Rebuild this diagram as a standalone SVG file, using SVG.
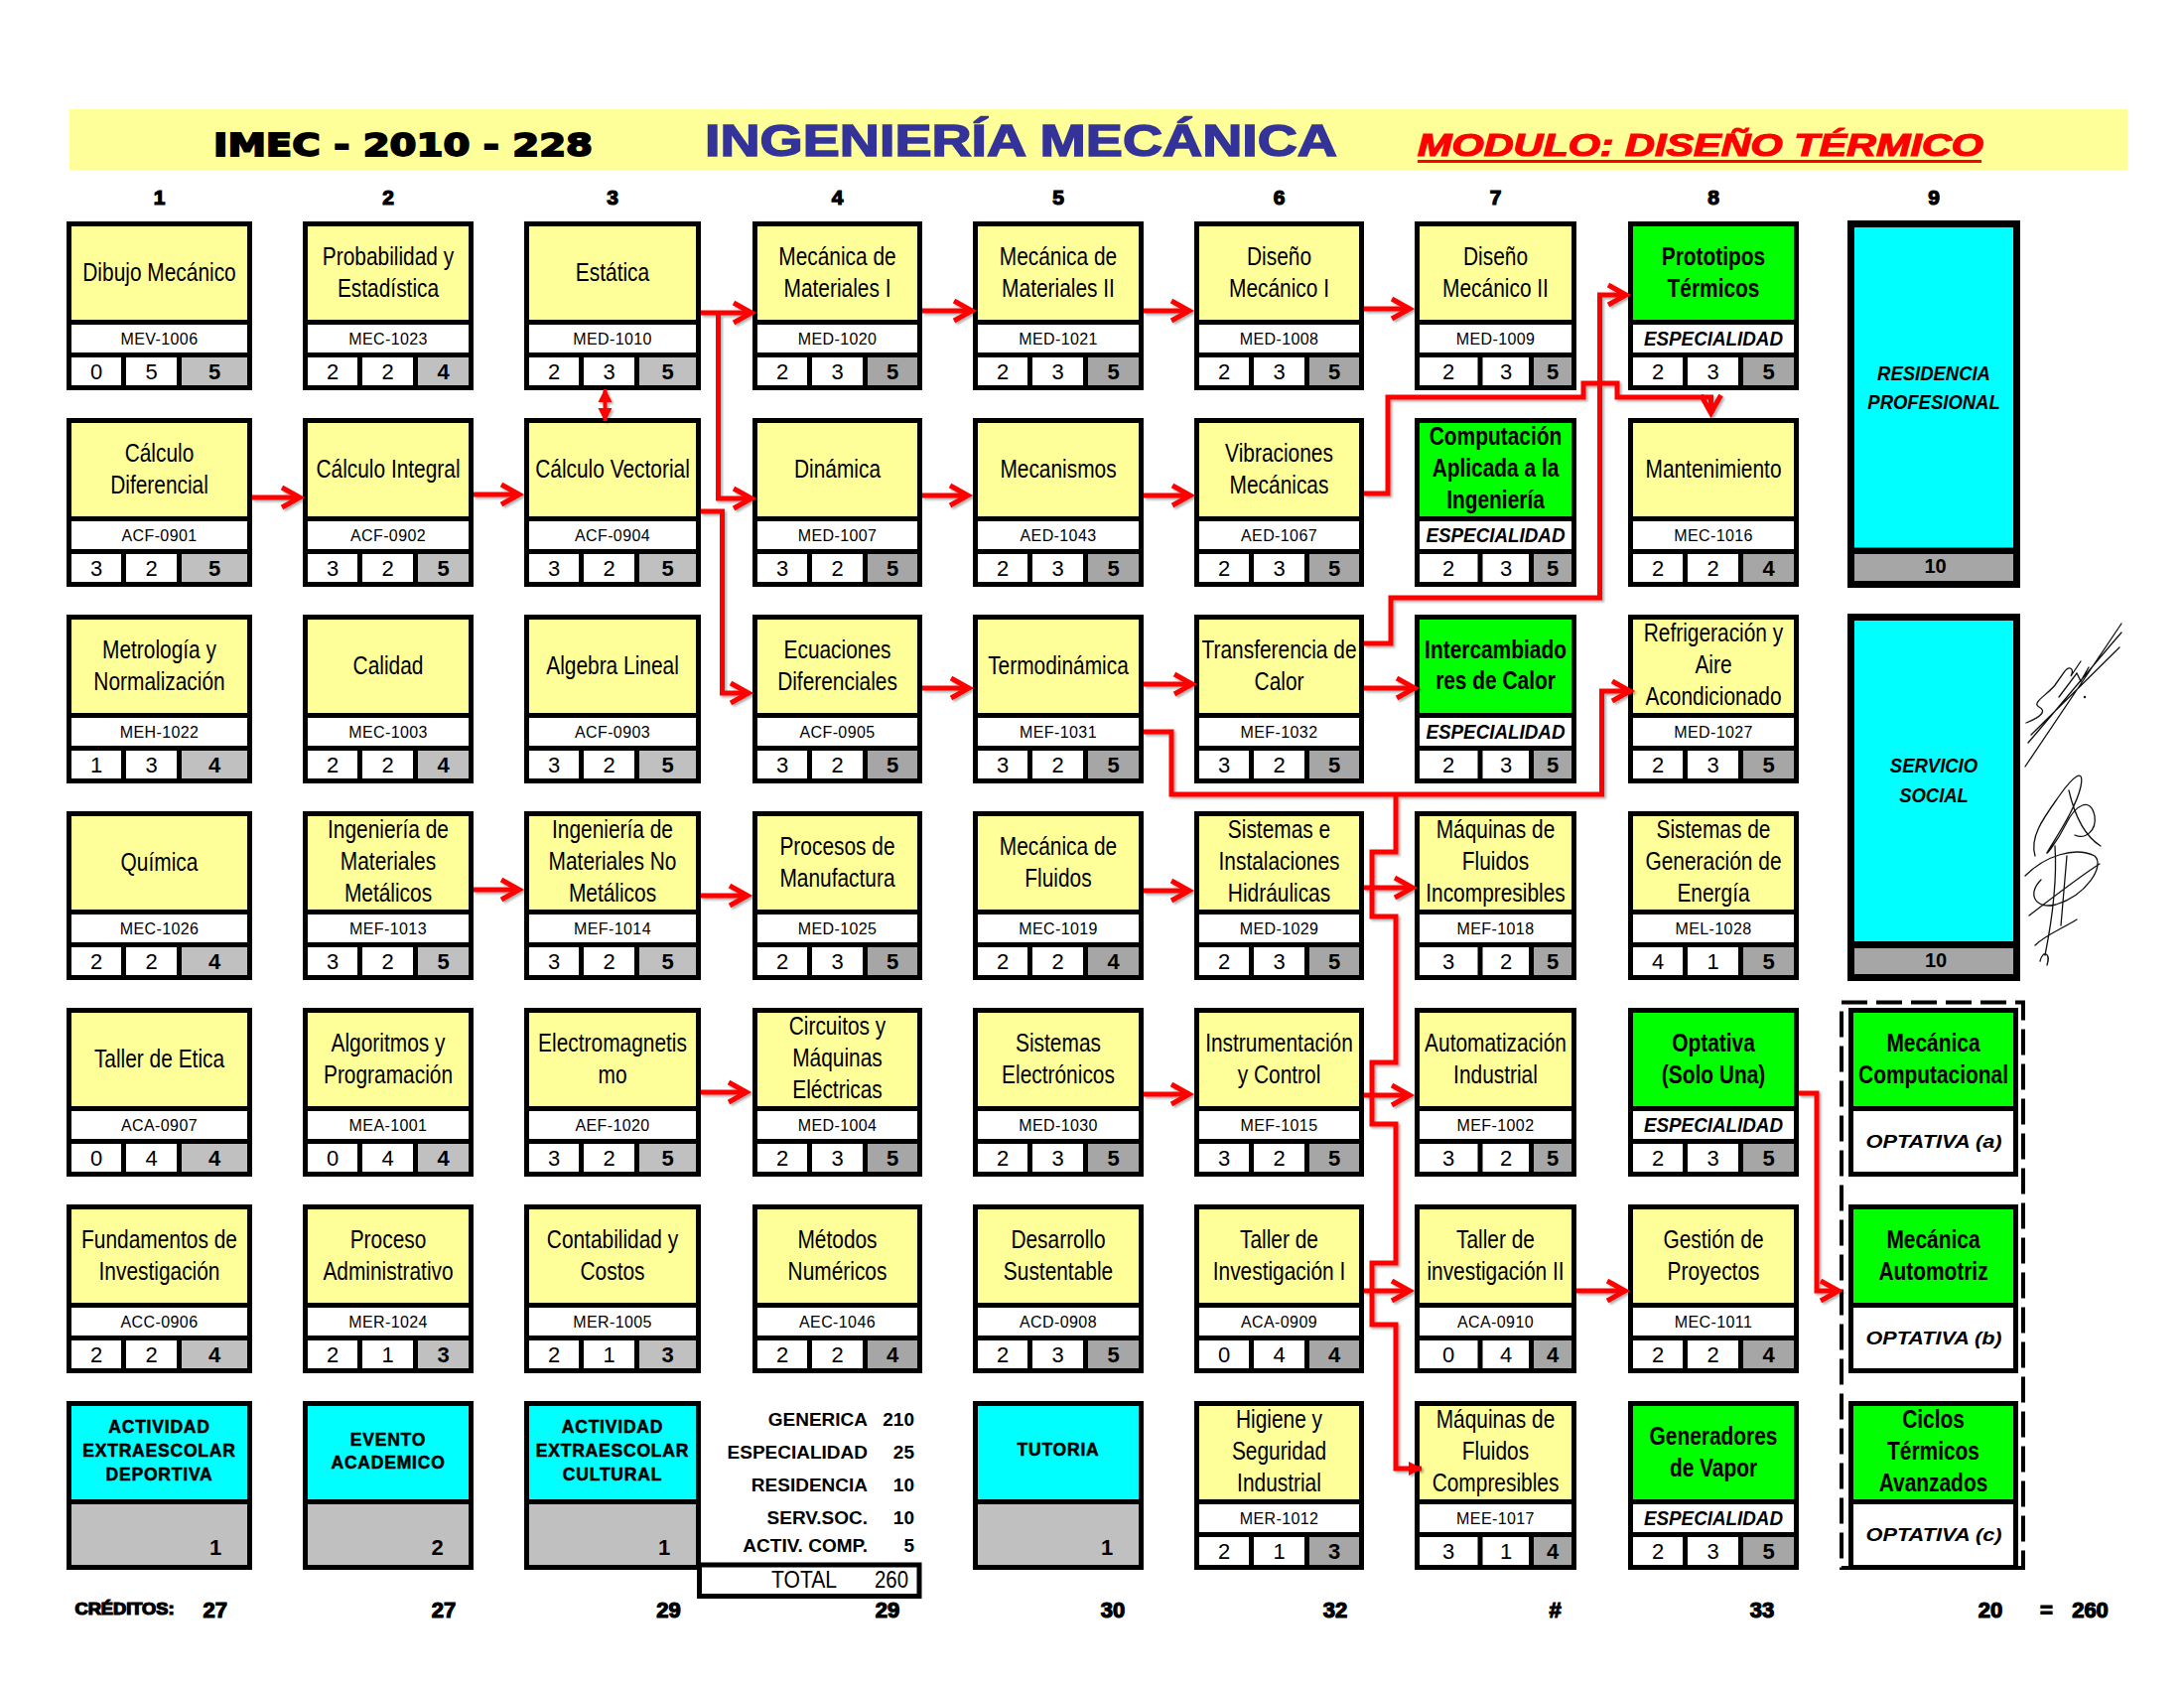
<svg xmlns="http://www.w3.org/2000/svg" width="2200" height="1700" viewBox="0 0 2200 1700">
<style>
.bd{fill:#000}
.ye{fill:#FFFF99}
.gr{fill:#00FF00}
.cy{fill:#00FFFF}
.wh{fill:#FFFFFF}
.g1{fill:#C0C0C0}
.g2{fill:#A6A6A6}
text{font-family:"Liberation Sans",Arial,sans-serif}
.t{font-size:25.5px;text-anchor:middle}
.tb{font-size:25.5px;text-anchor:middle;font-weight:bold}
.c{font-size:16px;text-anchor:middle;letter-spacing:0.4px}
.es{font-size:20.5px;font-weight:bold;font-style:italic;text-anchor:middle}
.op{font-size:19px;font-weight:bold;font-style:italic;text-anchor:middle}
.n{font-size:22px;text-anchor:middle}
.nb{font-size:22px;text-anchor:middle;font-weight:bold}
.cyt{font-size:17.5px;font-weight:bold;text-anchor:middle;letter-spacing:0.8px;stroke:#000;stroke-width:0.5px}
.blk{font-family:"DejaVu Sans",sans-serif;font-weight:bold;stroke:#000;stroke-width:1.2px}
.cn{stroke:#FF0000;stroke-width:5;fill:none}
.sum{font-size:19px;font-weight:bold;text-anchor:end}
.sig{stroke:#111;stroke-width:1.3;fill:none;stroke-linecap:round}
</style>
<defs>
<marker id="ah" markerUnits="userSpaceOnUse" viewBox="0 0 30 24" markerWidth="30" markerHeight="24" refX="21" refY="12" orient="auto" overflow="visible">
<path d="M3,2 L21,12 L3,22" fill="none" stroke="#FF0000" stroke-width="5"/>
</marker>
<marker id="tri" markerUnits="userSpaceOnUse" viewBox="0 0 14 14" markerWidth="14" markerHeight="14" refX="13" refY="7" orient="auto-start-reverse" overflow="visible">
<path d="M0,0 L14,7 L0,14 Z" fill="#FF0000"/>
</marker>
<filter id="sh" x="-10%" y="-10%" width="120%" height="120%">
<feDropShadow dx="2" dy="2" stdDeviation="1" flood-color="#000" flood-opacity="0.3"/>
</filter>
</defs>
<rect width="2200" height="1700" fill="#FFFFFF"/>

<g id="header">
<rect x="70" y="110" width="2073" height="61" fill="#FFFF99"/>
<text class="blk" x="215" y="157" font-size="32" textLength="382" lengthAdjust="spacingAndGlyphs" style="stroke-width:1.8px">IMEC - 2010 - 228</text>
<text x="710" y="157" font-size="45" font-weight="bold" style="fill:#333399;stroke:#333399;stroke-width:1.5px" textLength="637" lengthAdjust="spacingAndGlyphs">INGENIERÍA MECÁNICA</text>
<text x="1428" y="157" font-size="31" font-weight="bold" font-style="italic" style="fill:#FF0000;stroke:#FF0000;stroke-width:1.2px" textLength="570" lengthAdjust="spacingAndGlyphs">MODULO: DISEÑO TÉRMICO</text>
<rect x="1428" y="161" width="568" height="3" fill="#FF0000"/>
</g>

<g id="column-numbers" class="blk" font-size="21" text-anchor="middle">
<text x="160.5" y="206">1</text><text x="391" y="206">2</text><text x="617" y="206">3</text><text x="843.5" y="206">4</text><text x="1066" y="206">5</text><text x="1288.5" y="206">6</text><text x="1506.5" y="206">7</text><text x="1726" y="206">8</text><text x="1948" y="206">9</text>
</g>

<!-- COLUMN 1 -->
<g id="dibujo-mecanico">
<rect class="bd" x="67" y="223" width="187" height="170"/><rect class="ye" x="72" y="228" width="177" height="94"/><rect class="wh" x="72" y="327" width="177" height="28"/>
<rect class="wh" x="72" y="360" width="50" height="28"/><rect class="wh" x="127" y="360" width="51" height="28"/><rect class="g1" x="183" y="360" width="66" height="28"/>
<text class="t" transform="translate(160.5 0) scale(0.82 1)"><tspan x="0" y="283">Dibujo Mecánico</tspan></text>
<text class="c" x="160.5" y="347">MEV-1006</text>
<text class="n" x="97" y="382">0</text><text class="n" x="152.5" y="382">5</text><text class="nb" x="216" y="382">5</text>
</g>
<g id="calculo-diferencial">
<rect class="bd" x="67" y="421" width="187" height="170"/><rect class="ye" x="72" y="426" width="177" height="94"/><rect class="wh" x="72" y="525" width="177" height="28"/>
<rect class="wh" x="72" y="558" width="50" height="28"/><rect class="wh" x="127" y="558" width="51" height="28"/><rect class="g1" x="183" y="558" width="66" height="28"/>
<text class="t" transform="translate(160.5 0) scale(0.82 1)"><tspan x="0" y="465">Cálculo</tspan><tspan x="0" y="497">Diferencial</tspan></text>
<text class="c" x="160.5" y="545">ACF-0901</text>
<text class="n" x="97" y="580">3</text><text class="n" x="152.5" y="580">2</text><text class="nb" x="216" y="580">5</text>
</g>
<g id="metrologia">
<rect class="bd" x="67" y="619" width="187" height="170"/><rect class="ye" x="72" y="624" width="177" height="94"/><rect class="wh" x="72" y="723" width="177" height="28"/>
<rect class="wh" x="72" y="756" width="50" height="28"/><rect class="wh" x="127" y="756" width="51" height="28"/><rect class="g1" x="183" y="756" width="66" height="28"/>
<text class="t" transform="translate(160.5 0) scale(0.82 1)"><tspan x="0" y="663">Metrología y</tspan><tspan x="0" y="695">Normalización</tspan></text>
<text class="c" x="160.5" y="743">MEH-1022</text>
<text class="n" x="97" y="778">1</text><text class="n" x="152.5" y="778">3</text><text class="nb" x="216" y="778">4</text>
</g>
<g id="quimica">
<rect class="bd" x="67" y="817" width="187" height="170"/><rect class="ye" x="72" y="822" width="177" height="94"/><rect class="wh" x="72" y="921" width="177" height="28"/>
<rect class="wh" x="72" y="954" width="50" height="28"/><rect class="wh" x="127" y="954" width="51" height="28"/><rect class="g1" x="183" y="954" width="66" height="28"/>
<text class="t" transform="translate(160.5 0) scale(0.82 1)"><tspan x="0" y="877">Química</tspan></text>
<text class="c" x="160.5" y="941">MEC-1026</text>
<text class="n" x="97" y="976">2</text><text class="n" x="152.5" y="976">2</text><text class="nb" x="216" y="976">4</text>
</g>
<g id="taller-etica">
<rect class="bd" x="67" y="1015" width="187" height="170"/><rect class="ye" x="72" y="1020" width="177" height="94"/><rect class="wh" x="72" y="1119" width="177" height="28"/>
<rect class="wh" x="72" y="1152" width="50" height="28"/><rect class="wh" x="127" y="1152" width="51" height="28"/><rect class="g1" x="183" y="1152" width="66" height="28"/>
<text class="t" transform="translate(160.5 0) scale(0.82 1)"><tspan x="0" y="1075">Taller de Etica</tspan></text>
<text class="c" x="160.5" y="1139">ACA-0907</text>
<text class="n" x="97" y="1174">0</text><text class="n" x="152.5" y="1174">4</text><text class="nb" x="216" y="1174">4</text>
</g>
<g id="fundamentos-investigacion">
<rect class="bd" x="67" y="1213" width="187" height="170"/><rect class="ye" x="72" y="1218" width="177" height="94"/><rect class="wh" x="72" y="1317" width="177" height="28"/>
<rect class="wh" x="72" y="1350" width="50" height="28"/><rect class="wh" x="127" y="1350" width="51" height="28"/><rect class="g1" x="183" y="1350" width="66" height="28"/>
<text class="t" transform="translate(160.5 0) scale(0.82 1)"><tspan x="0" y="1257">Fundamentos de</tspan><tspan x="0" y="1289">Investigación</tspan></text>
<text class="c" x="160.5" y="1337">ACC-0906</text>
<text class="n" x="97" y="1372">2</text><text class="n" x="152.5" y="1372">2</text><text class="nb" x="216" y="1372">4</text>
</g>
<g id="actividad-deportiva">
<rect class="bd" x="67" y="1411" width="187" height="170"/><rect class="cy" x="72" y="1416" width="177" height="94"/><rect class="g1" x="72" y="1515" width="177" height="61"/>
<text class="cyt" x="160.5" y="1443">ACTIVIDAD</text><text class="cyt" x="160.5" y="1467">EXTRAESCOLAR</text><text class="cyt" x="160.5" y="1491">DEPORTIVA</text>
<text class="nb" x="217" y="1566">1</text>
</g>

<!-- COLUMN 2 -->
<g id="probabilidad">
<rect class="bd" x="305" y="223" width="172" height="170"/><rect class="ye" x="310" y="228" width="162" height="94"/><rect class="wh" x="310" y="327" width="162" height="28"/>
<rect class="wh" x="310" y="360" width="50" height="28"/><rect class="wh" x="365" y="360" width="51" height="28"/><rect class="g1" x="421" y="360" width="51" height="28"/>
<text class="t" transform="translate(391 0) scale(0.82 1)"><tspan x="0" y="267">Probabilidad y</tspan><tspan x="0" y="299">Estadística</tspan></text>
<text class="c" x="391" y="347">MEC-1023</text>
<text class="n" x="335" y="382">2</text><text class="n" x="390.5" y="382">2</text><text class="nb" x="446.5" y="382">4</text>
</g>
<g id="calculo-integral">
<rect class="bd" x="305" y="421" width="172" height="170"/><rect class="ye" x="310" y="426" width="162" height="94"/><rect class="wh" x="310" y="525" width="162" height="28"/>
<rect class="wh" x="310" y="558" width="50" height="28"/><rect class="wh" x="365" y="558" width="51" height="28"/><rect class="g1" x="421" y="558" width="51" height="28"/>
<text class="t" transform="translate(391 0) scale(0.82 1)"><tspan x="0" y="481">Cálculo Integral</tspan></text>
<text class="c" x="391" y="545">ACF-0902</text>
<text class="n" x="335" y="580">3</text><text class="n" x="390.5" y="580">2</text><text class="nb" x="446.5" y="580">5</text>
</g>
<g id="calidad">
<rect class="bd" x="305" y="619" width="172" height="170"/><rect class="ye" x="310" y="624" width="162" height="94"/><rect class="wh" x="310" y="723" width="162" height="28"/>
<rect class="wh" x="310" y="756" width="50" height="28"/><rect class="wh" x="365" y="756" width="51" height="28"/><rect class="g1" x="421" y="756" width="51" height="28"/>
<text class="t" transform="translate(391 0) scale(0.82 1)"><tspan x="0" y="679">Calidad</tspan></text>
<text class="c" x="391" y="743">MEC-1003</text>
<text class="n" x="335" y="778">2</text><text class="n" x="390.5" y="778">2</text><text class="nb" x="446.5" y="778">4</text>
</g>
<g id="ing-materiales-metalicos">
<rect class="bd" x="305" y="817" width="172" height="170"/><rect class="ye" x="310" y="822" width="162" height="94"/><rect class="wh" x="310" y="921" width="162" height="28"/>
<rect class="wh" x="310" y="954" width="50" height="28"/><rect class="wh" x="365" y="954" width="51" height="28"/><rect class="g1" x="421" y="954" width="51" height="28"/>
<text class="t" transform="translate(391 0) scale(0.82 1)"><tspan x="0" y="844">Ingeniería de</tspan><tspan x="0" y="876">Materiales</tspan><tspan x="0" y="908">Metálicos</tspan></text>
<text class="c" x="391" y="941">MEF-1013</text>
<text class="n" x="335" y="976">3</text><text class="n" x="390.5" y="976">2</text><text class="nb" x="446.5" y="976">5</text>
</g>
<g id="algoritmos">
<rect class="bd" x="305" y="1015" width="172" height="170"/><rect class="ye" x="310" y="1020" width="162" height="94"/><rect class="wh" x="310" y="1119" width="162" height="28"/>
<rect class="wh" x="310" y="1152" width="50" height="28"/><rect class="wh" x="365" y="1152" width="51" height="28"/><rect class="g1" x="421" y="1152" width="51" height="28"/>
<text class="t" transform="translate(391 0) scale(0.82 1)"><tspan x="0" y="1059">Algoritmos y</tspan><tspan x="0" y="1091">Programación</tspan></text>
<text class="c" x="391" y="1139">MEA-1001</text>
<text class="n" x="335" y="1174">0</text><text class="n" x="390.5" y="1174">4</text><text class="nb" x="446.5" y="1174">4</text>
</g>
<g id="proceso-administrativo">
<rect class="bd" x="305" y="1213" width="172" height="170"/><rect class="ye" x="310" y="1218" width="162" height="94"/><rect class="wh" x="310" y="1317" width="162" height="28"/>
<rect class="wh" x="310" y="1350" width="50" height="28"/><rect class="wh" x="365" y="1350" width="51" height="28"/><rect class="g1" x="421" y="1350" width="51" height="28"/>
<text class="t" transform="translate(391 0) scale(0.82 1)"><tspan x="0" y="1257">Proceso</tspan><tspan x="0" y="1289">Administrativo</tspan></text>
<text class="c" x="391" y="1337">MER-1024</text>
<text class="n" x="335" y="1372">2</text><text class="n" x="390.5" y="1372">1</text><text class="nb" x="446.5" y="1372">3</text>
</g>
<g id="evento-academico">
<rect class="bd" x="305" y="1411" width="172" height="170"/><rect class="cy" x="310" y="1416" width="162" height="94"/><rect class="g1" x="310" y="1515" width="162" height="61"/>
<text class="cyt" x="391" y="1456">EVENTO</text><text class="cyt" x="391" y="1479">ACADEMICO</text>
<text class="nb" x="440.5" y="1566">2</text>
</g>

<!-- COLUMN 3 -->
<g id="estatica">
<rect class="bd" x="528" y="223" width="178" height="170"/><rect class="ye" x="533" y="228" width="168" height="94"/><rect class="wh" x="533" y="327" width="168" height="28"/>
<rect class="wh" x="533" y="360" width="50" height="28"/><rect class="wh" x="588" y="360" width="51" height="28"/><rect class="g1" x="644" y="360" width="57" height="28"/>
<text class="t" transform="translate(617 0) scale(0.82 1)"><tspan x="0" y="283">Estática</tspan></text>
<text class="c" x="617" y="347">MED-1010</text>
<text class="n" x="558" y="382">2</text><text class="n" x="613.5" y="382">3</text><text class="nb" x="672.5" y="382">5</text>
</g>
<g id="calculo-vectorial">
<rect class="bd" x="528" y="421" width="178" height="170"/><rect class="ye" x="533" y="426" width="168" height="94"/><rect class="wh" x="533" y="525" width="168" height="28"/>
<rect class="wh" x="533" y="558" width="50" height="28"/><rect class="wh" x="588" y="558" width="51" height="28"/><rect class="g1" x="644" y="558" width="57" height="28"/>
<text class="t" transform="translate(617 0) scale(0.82 1)"><tspan x="0" y="481">Cálculo Vectorial</tspan></text>
<text class="c" x="617" y="545">ACF-0904</text>
<text class="n" x="558" y="580">3</text><text class="n" x="613.5" y="580">2</text><text class="nb" x="672.5" y="580">5</text>
</g>
<g id="algebra-lineal">
<rect class="bd" x="528" y="619" width="178" height="170"/><rect class="ye" x="533" y="624" width="168" height="94"/><rect class="wh" x="533" y="723" width="168" height="28"/>
<rect class="wh" x="533" y="756" width="50" height="28"/><rect class="wh" x="588" y="756" width="51" height="28"/><rect class="g1" x="644" y="756" width="57" height="28"/>
<text class="t" transform="translate(617 0) scale(0.82 1)"><tspan x="0" y="679">Algebra Lineal</tspan></text>
<text class="c" x="617" y="743">ACF-0903</text>
<text class="n" x="558" y="778">3</text><text class="n" x="613.5" y="778">2</text><text class="nb" x="672.5" y="778">5</text>
</g>
<g id="ing-materiales-no-metalicos">
<rect class="bd" x="528" y="817" width="178" height="170"/><rect class="ye" x="533" y="822" width="168" height="94"/><rect class="wh" x="533" y="921" width="168" height="28"/>
<rect class="wh" x="533" y="954" width="50" height="28"/><rect class="wh" x="588" y="954" width="51" height="28"/><rect class="g1" x="644" y="954" width="57" height="28"/>
<text class="t" transform="translate(617 0) scale(0.82 1)"><tspan x="0" y="844">Ingeniería de</tspan><tspan x="0" y="876">Materiales No</tspan><tspan x="0" y="908">Metálicos</tspan></text>
<text class="c" x="617" y="941">MEF-1014</text>
<text class="n" x="558" y="976">3</text><text class="n" x="613.5" y="976">2</text><text class="nb" x="672.5" y="976">5</text>
</g>
<g id="electromagnetismo">
<rect class="bd" x="528" y="1015" width="178" height="170"/><rect class="ye" x="533" y="1020" width="168" height="94"/><rect class="wh" x="533" y="1119" width="168" height="28"/>
<rect class="wh" x="533" y="1152" width="50" height="28"/><rect class="wh" x="588" y="1152" width="51" height="28"/><rect class="g1" x="644" y="1152" width="57" height="28"/>
<text class="t" transform="translate(617 0) scale(0.82 1)"><tspan x="0" y="1059">Electromagnetis</tspan><tspan x="0" y="1091">mo</tspan></text>
<text class="c" x="617" y="1139">AEF-1020</text>
<text class="n" x="558" y="1174">3</text><text class="n" x="613.5" y="1174">2</text><text class="nb" x="672.5" y="1174">5</text>
</g>
<g id="contabilidad">
<rect class="bd" x="528" y="1213" width="178" height="170"/><rect class="ye" x="533" y="1218" width="168" height="94"/><rect class="wh" x="533" y="1317" width="168" height="28"/>
<rect class="wh" x="533" y="1350" width="50" height="28"/><rect class="wh" x="588" y="1350" width="51" height="28"/><rect class="g1" x="644" y="1350" width="57" height="28"/>
<text class="t" transform="translate(617 0) scale(0.82 1)"><tspan x="0" y="1257">Contabilidad y</tspan><tspan x="0" y="1289">Costos</tspan></text>
<text class="c" x="617" y="1337">MER-1005</text>
<text class="n" x="558" y="1372">2</text><text class="n" x="613.5" y="1372">1</text><text class="nb" x="672.5" y="1372">3</text>
</g>
<g id="actividad-cultural">
<rect class="bd" x="528" y="1411" width="178" height="170"/><rect class="cy" x="533" y="1416" width="168" height="94"/><rect class="g1" x="533" y="1515" width="168" height="61"/>
<text class="cyt" x="617" y="1443">ACTIVIDAD</text><text class="cyt" x="617" y="1467">EXTRAESCOLAR</text><text class="cyt" x="617" y="1491">CULTURAL</text>
<text class="nb" x="669" y="1566">1</text>
</g>

<!-- COLUMN 4 -->
<g id="mecanica-materiales-1">
<rect class="bd" x="758" y="223" width="171" height="170"/><rect class="ye" x="763" y="228" width="161" height="94"/><rect class="wh" x="763" y="327" width="161" height="28"/>
<rect class="wh" x="763" y="360" width="50" height="28"/><rect class="wh" x="818" y="360" width="51" height="28"/><rect class="g2" x="874" y="360" width="50" height="28"/>
<text class="t" transform="translate(843.5 0) scale(0.82 1)"><tspan x="0" y="267">Mecánica de</tspan><tspan x="0" y="299">Materiales I</tspan></text>
<text class="c" x="843.5" y="347">MED-1020</text>
<text class="n" x="788" y="382">2</text><text class="n" x="843.5" y="382">3</text><text class="nb" x="899" y="382">5</text>
</g>
<g id="dinamica">
<rect class="bd" x="758" y="421" width="171" height="170"/><rect class="ye" x="763" y="426" width="161" height="94"/><rect class="wh" x="763" y="525" width="161" height="28"/>
<rect class="wh" x="763" y="558" width="50" height="28"/><rect class="wh" x="818" y="558" width="51" height="28"/><rect class="g2" x="874" y="558" width="50" height="28"/>
<text class="t" transform="translate(843.5 0) scale(0.82 1)"><tspan x="0" y="481">Dinámica</tspan></text>
<text class="c" x="843.5" y="545">MED-1007</text>
<text class="n" x="788" y="580">3</text><text class="n" x="843.5" y="580">2</text><text class="nb" x="899" y="580">5</text>
</g>
<g id="ecuaciones-diferenciales">
<rect class="bd" x="758" y="619" width="171" height="170"/><rect class="ye" x="763" y="624" width="161" height="94"/><rect class="wh" x="763" y="723" width="161" height="28"/>
<rect class="wh" x="763" y="756" width="50" height="28"/><rect class="wh" x="818" y="756" width="51" height="28"/><rect class="g2" x="874" y="756" width="50" height="28"/>
<text class="t" transform="translate(843.5 0) scale(0.82 1)"><tspan x="0" y="663">Ecuaciones</tspan><tspan x="0" y="695">Diferenciales</tspan></text>
<text class="c" x="843.5" y="743">ACF-0905</text>
<text class="n" x="788" y="778">3</text><text class="n" x="843.5" y="778">2</text><text class="nb" x="899" y="778">5</text>
</g>
<g id="procesos-manufactura">
<rect class="bd" x="758" y="817" width="171" height="170"/><rect class="ye" x="763" y="822" width="161" height="94"/><rect class="wh" x="763" y="921" width="161" height="28"/>
<rect class="wh" x="763" y="954" width="50" height="28"/><rect class="wh" x="818" y="954" width="51" height="28"/><rect class="g2" x="874" y="954" width="50" height="28"/>
<text class="t" transform="translate(843.5 0) scale(0.82 1)"><tspan x="0" y="861">Procesos de</tspan><tspan x="0" y="893">Manufactura</tspan></text>
<text class="c" x="843.5" y="941">MED-1025</text>
<text class="n" x="788" y="976">2</text><text class="n" x="843.5" y="976">3</text><text class="nb" x="899" y="976">5</text>
</g>
<g id="circuitos">
<rect class="bd" x="758" y="1015" width="171" height="170"/><rect class="ye" x="763" y="1020" width="161" height="94"/><rect class="wh" x="763" y="1119" width="161" height="28"/>
<rect class="wh" x="763" y="1152" width="50" height="28"/><rect class="wh" x="818" y="1152" width="51" height="28"/><rect class="g2" x="874" y="1152" width="50" height="28"/>
<text class="t" transform="translate(843.5 0) scale(0.82 1)"><tspan x="0" y="1042">Circuitos y</tspan><tspan x="0" y="1074">Máquinas</tspan><tspan x="0" y="1106">Eléctricas</tspan></text>
<text class="c" x="843.5" y="1139">MED-1004</text>
<text class="n" x="788" y="1174">2</text><text class="n" x="843.5" y="1174">3</text><text class="nb" x="899" y="1174">5</text>
</g>
<g id="metodos-numericos">
<rect class="bd" x="758" y="1213" width="171" height="170"/><rect class="ye" x="763" y="1218" width="161" height="94"/><rect class="wh" x="763" y="1317" width="161" height="28"/>
<rect class="wh" x="763" y="1350" width="50" height="28"/><rect class="wh" x="818" y="1350" width="51" height="28"/><rect class="g2" x="874" y="1350" width="50" height="28"/>
<text class="t" transform="translate(843.5 0) scale(0.82 1)"><tspan x="0" y="1257">Métodos</tspan><tspan x="0" y="1289">Numéricos</tspan></text>
<text class="c" x="843.5" y="1337">AEC-1046</text>
<text class="n" x="788" y="1372">2</text><text class="n" x="843.5" y="1372">2</text><text class="nb" x="899" y="1372">4</text>
</g>
<g id="resumen-creditos">
<text class="sum" x="874" y="1436">GENERICA</text><text class="sum" x="921" y="1436">210</text>
<text class="sum" x="874" y="1469">ESPECIALIDAD</text><text class="sum" x="921" y="1469">25</text>
<text class="sum" x="874" y="1502">RESIDENCIA</text><text class="sum" x="921" y="1502">10</text>
<text class="sum" x="874" y="1535">SERV.SOC.</text><text class="sum" x="921" y="1535">10</text>
<text class="sum" x="874" y="1563">ACTIV. COMP.</text><text class="sum" x="921" y="1563">5</text>
<rect x="704.5" y="1576" width="221.5" height="31.5" fill="#FFFFFF" stroke="#000" stroke-width="5"/>
<text font-size="24" text-anchor="middle" transform="translate(810 0) scale(0.88 1)"><tspan x="0" y="1599">TOTAL</tspan></text>
<text font-size="24" text-anchor="end" transform="translate(915 0) scale(0.85 1)"><tspan x="0" y="1599">260</tspan></text>
</g>

<!-- COLUMN 5 -->
<g id="mecanica-materiales-2">
<rect class="bd" x="980" y="223" width="172" height="170"/><rect class="ye" x="985" y="228" width="162" height="94"/><rect class="wh" x="985" y="327" width="162" height="28"/>
<rect class="wh" x="985" y="360" width="50" height="28"/><rect class="wh" x="1040" y="360" width="51" height="28"/><rect class="g2" x="1096" y="360" width="51" height="28"/>
<text class="t" transform="translate(1066 0) scale(0.82 1)"><tspan x="0" y="267">Mecánica de</tspan><tspan x="0" y="299">Materiales II</tspan></text>
<text class="c" x="1066" y="347">MED-1021</text>
<text class="n" x="1010" y="382">2</text><text class="n" x="1065.5" y="382">3</text><text class="nb" x="1121.5" y="382">5</text>
</g>
<g id="mecanismos">
<rect class="bd" x="980" y="421" width="172" height="170"/><rect class="ye" x="985" y="426" width="162" height="94"/><rect class="wh" x="985" y="525" width="162" height="28"/>
<rect class="wh" x="985" y="558" width="50" height="28"/><rect class="wh" x="1040" y="558" width="51" height="28"/><rect class="g2" x="1096" y="558" width="51" height="28"/>
<text class="t" transform="translate(1066 0) scale(0.82 1)"><tspan x="0" y="481">Mecanismos</tspan></text>
<text class="c" x="1066" y="545">AED-1043</text>
<text class="n" x="1010" y="580">2</text><text class="n" x="1065.5" y="580">3</text><text class="nb" x="1121.5" y="580">5</text>
</g>
<g id="termodinamica">
<rect class="bd" x="980" y="619" width="172" height="170"/><rect class="ye" x="985" y="624" width="162" height="94"/><rect class="wh" x="985" y="723" width="162" height="28"/>
<rect class="wh" x="985" y="756" width="50" height="28"/><rect class="wh" x="1040" y="756" width="51" height="28"/><rect class="g2" x="1096" y="756" width="51" height="28"/>
<text class="t" transform="translate(1066 0) scale(0.82 1)"><tspan x="0" y="679">Termodinámica</tspan></text>
<text class="c" x="1066" y="743">MEF-1031</text>
<text class="n" x="1010" y="778">3</text><text class="n" x="1065.5" y="778">2</text><text class="nb" x="1121.5" y="778">5</text>
</g>
<g id="mecanica-fluidos">
<rect class="bd" x="980" y="817" width="172" height="170"/><rect class="ye" x="985" y="822" width="162" height="94"/><rect class="wh" x="985" y="921" width="162" height="28"/>
<rect class="wh" x="985" y="954" width="50" height="28"/><rect class="wh" x="1040" y="954" width="51" height="28"/><rect class="g2" x="1096" y="954" width="51" height="28"/>
<text class="t" transform="translate(1066 0) scale(0.82 1)"><tspan x="0" y="861">Mecánica de</tspan><tspan x="0" y="893">Fluidos</tspan></text>
<text class="c" x="1066" y="941">MEC-1019</text>
<text class="n" x="1010" y="976">2</text><text class="n" x="1065.5" y="976">2</text><text class="nb" x="1121.5" y="976">4</text>
</g>
<g id="sistemas-electronicos">
<rect class="bd" x="980" y="1015" width="172" height="170"/><rect class="ye" x="985" y="1020" width="162" height="94"/><rect class="wh" x="985" y="1119" width="162" height="28"/>
<rect class="wh" x="985" y="1152" width="50" height="28"/><rect class="wh" x="1040" y="1152" width="51" height="28"/><rect class="g2" x="1096" y="1152" width="51" height="28"/>
<text class="t" transform="translate(1066 0) scale(0.82 1)"><tspan x="0" y="1059">Sistemas</tspan><tspan x="0" y="1091">Electrónicos</tspan></text>
<text class="c" x="1066" y="1139">MED-1030</text>
<text class="n" x="1010" y="1174">2</text><text class="n" x="1065.5" y="1174">3</text><text class="nb" x="1121.5" y="1174">5</text>
</g>
<g id="desarrollo-sustentable">
<rect class="bd" x="980" y="1213" width="172" height="170"/><rect class="ye" x="985" y="1218" width="162" height="94"/><rect class="wh" x="985" y="1317" width="162" height="28"/>
<rect class="wh" x="985" y="1350" width="50" height="28"/><rect class="wh" x="1040" y="1350" width="51" height="28"/><rect class="g2" x="1096" y="1350" width="51" height="28"/>
<text class="t" transform="translate(1066 0) scale(0.82 1)"><tspan x="0" y="1257">Desarrollo</tspan><tspan x="0" y="1289">Sustentable</tspan></text>
<text class="c" x="1066" y="1337">ACD-0908</text>
<text class="n" x="1010" y="1372">2</text><text class="n" x="1065.5" y="1372">3</text><text class="nb" x="1121.5" y="1372">5</text>
</g>
<g id="tutoria">
<rect class="bd" x="980" y="1411" width="172" height="170"/><rect class="cy" x="985" y="1416" width="162" height="94"/><rect class="g1" x="985" y="1515" width="162" height="61"/>
<text class="cyt" x="1066" y="1466">TUTORIA</text>
<text class="nb" x="1115" y="1566">1</text>
</g>

<!-- COLUMN 6 -->
<g id="diseno-mecanico-1">
<rect class="bd" x="1203" y="223" width="171" height="170"/><rect class="ye" x="1208" y="228" width="161" height="94"/><rect class="wh" x="1208" y="327" width="161" height="28"/>
<rect class="wh" x="1208" y="360" width="50" height="28"/><rect class="wh" x="1263" y="360" width="51" height="28"/><rect class="g2" x="1319" y="360" width="50" height="28"/>
<text class="t" transform="translate(1288.5 0) scale(0.82 1)"><tspan x="0" y="267">Diseño</tspan><tspan x="0" y="299">Mecánico I</tspan></text>
<text class="c" x="1288.5" y="347">MED-1008</text>
<text class="n" x="1233" y="382">2</text><text class="n" x="1288.5" y="382">3</text><text class="nb" x="1344" y="382">5</text>
</g>
<g id="vibraciones">
<rect class="bd" x="1203" y="421" width="171" height="170"/><rect class="ye" x="1208" y="426" width="161" height="94"/><rect class="wh" x="1208" y="525" width="161" height="28"/>
<rect class="wh" x="1208" y="558" width="50" height="28"/><rect class="wh" x="1263" y="558" width="51" height="28"/><rect class="g2" x="1319" y="558" width="50" height="28"/>
<text class="t" transform="translate(1288.5 0) scale(0.82 1)"><tspan x="0" y="465">Vibraciones</tspan><tspan x="0" y="497">Mecánicas</tspan></text>
<text class="c" x="1288.5" y="545">AED-1067</text>
<text class="n" x="1233" y="580">2</text><text class="n" x="1288.5" y="580">3</text><text class="nb" x="1344" y="580">5</text>
</g>
<g id="transferencia-calor">
<rect class="bd" x="1203" y="619" width="171" height="170"/><rect class="ye" x="1208" y="624" width="161" height="94"/><rect class="wh" x="1208" y="723" width="161" height="28"/>
<rect class="wh" x="1208" y="756" width="50" height="28"/><rect class="wh" x="1263" y="756" width="51" height="28"/><rect class="g2" x="1319" y="756" width="50" height="28"/>
<text class="t" transform="translate(1288.5 0) scale(0.82 1)"><tspan x="0" y="663">Transferencia de</tspan><tspan x="0" y="695">Calor</tspan></text>
<text class="c" x="1288.5" y="743">MEF-1032</text>
<text class="n" x="1233" y="778">3</text><text class="n" x="1288.5" y="778">2</text><text class="nb" x="1344" y="778">5</text>
</g>
<g id="sistemas-instalaciones">
<rect class="bd" x="1203" y="817" width="171" height="170"/><rect class="ye" x="1208" y="822" width="161" height="94"/><rect class="wh" x="1208" y="921" width="161" height="28"/>
<rect class="wh" x="1208" y="954" width="50" height="28"/><rect class="wh" x="1263" y="954" width="51" height="28"/><rect class="g2" x="1319" y="954" width="50" height="28"/>
<text class="t" transform="translate(1288.5 0) scale(0.82 1)"><tspan x="0" y="844">Sistemas e</tspan><tspan x="0" y="876">Instalaciones</tspan><tspan x="0" y="908">Hidráulicas</tspan></text>
<text class="c" x="1288.5" y="941">MED-1029</text>
<text class="n" x="1233" y="976">2</text><text class="n" x="1288.5" y="976">3</text><text class="nb" x="1344" y="976">5</text>
</g>
<g id="instrumentacion">
<rect class="bd" x="1203" y="1015" width="171" height="170"/><rect class="ye" x="1208" y="1020" width="161" height="94"/><rect class="wh" x="1208" y="1119" width="161" height="28"/>
<rect class="wh" x="1208" y="1152" width="50" height="28"/><rect class="wh" x="1263" y="1152" width="51" height="28"/><rect class="g2" x="1319" y="1152" width="50" height="28"/>
<text class="t" transform="translate(1288.5 0) scale(0.82 1)"><tspan x="0" y="1059">Instrumentación</tspan><tspan x="0" y="1091">y Control</tspan></text>
<text class="c" x="1288.5" y="1139">MEF-1015</text>
<text class="n" x="1233" y="1174">3</text><text class="n" x="1288.5" y="1174">2</text><text class="nb" x="1344" y="1174">5</text>
</g>
<g id="taller-investigacion-1">
<rect class="bd" x="1203" y="1213" width="171" height="170"/><rect class="ye" x="1208" y="1218" width="161" height="94"/><rect class="wh" x="1208" y="1317" width="161" height="28"/>
<rect class="wh" x="1208" y="1350" width="50" height="28"/><rect class="wh" x="1263" y="1350" width="51" height="28"/><rect class="g2" x="1319" y="1350" width="50" height="28"/>
<text class="t" transform="translate(1288.5 0) scale(0.82 1)"><tspan x="0" y="1257">Taller de</tspan><tspan x="0" y="1289">Investigación I</tspan></text>
<text class="c" x="1288.5" y="1337">ACA-0909</text>
<text class="n" x="1233" y="1372">0</text><text class="n" x="1288.5" y="1372">4</text><text class="nb" x="1344" y="1372">4</text>
</g>
<g id="higiene-seguridad">
<rect class="bd" x="1203" y="1411" width="171" height="170"/><rect class="ye" x="1208" y="1416" width="161" height="94"/><rect class="wh" x="1208" y="1515" width="161" height="28"/>
<rect class="wh" x="1208" y="1548" width="50" height="28"/><rect class="wh" x="1263" y="1548" width="51" height="28"/><rect class="g2" x="1319" y="1548" width="50" height="28"/>
<text class="t" transform="translate(1288.5 0) scale(0.82 1)"><tspan x="0" y="1438">Higiene y</tspan><tspan x="0" y="1470">Seguridad</tspan><tspan x="0" y="1502">Industrial</tspan></text>
<text class="c" x="1288.5" y="1535">MER-1012</text>
<text class="n" x="1233" y="1570">2</text><text class="n" x="1288.5" y="1570">1</text><text class="nb" x="1344" y="1570">3</text>
</g>

<!-- COLUMN 7 -->
<g id="diseno-mecanico-2">
<rect class="bd" x="1425" y="223" width="163" height="170"/><rect class="ye" x="1430" y="228" width="153" height="94"/><rect class="wh" x="1430" y="327" width="153" height="28"/>
<rect class="wh" x="1430" y="360" width="58.5" height="28"/><rect class="wh" x="1493.5" y="360" width="46.5" height="28"/><rect class="g2" x="1545" y="360" width="38" height="28"/>
<text class="t" transform="translate(1506.5 0) scale(0.82 1)"><tspan x="0" y="267">Diseño</tspan><tspan x="0" y="299">Mecánico II</tspan></text>
<text class="c" x="1506.5" y="347">MED-1009</text>
<text class="n" x="1459" y="382">2</text><text class="n" x="1517" y="382">3</text><text class="nb" x="1564" y="382">5</text>
</g>
<g id="computacion-aplicada">
<rect class="bd" x="1425" y="421" width="163" height="170"/><rect class="gr" x="1430" y="426" width="153" height="94"/><rect class="wh" x="1430" y="525" width="153" height="28"/>
<rect class="wh" x="1430" y="558" width="58.5" height="28"/><rect class="wh" x="1493.5" y="558" width="46.5" height="28"/><rect class="g2" x="1545" y="558" width="38" height="28"/>
<text class="tb" transform="translate(1506.5 0) scale(0.82 1)"><tspan x="0" y="448">Computación</tspan><tspan x="0" y="480">Aplicada a la</tspan><tspan x="0" y="512">Ingeniería</tspan></text>
<text class="es" x="1506.5" y="546" textLength="140" lengthAdjust="spacingAndGlyphs">ESPECIALIDAD</text>
<text class="n" x="1459" y="580">2</text><text class="n" x="1517" y="580">3</text><text class="nb" x="1564" y="580">5</text>
</g>
<g id="intercambiadores">
<rect class="bd" x="1425" y="619" width="163" height="170"/><rect class="gr" x="1430" y="624" width="153" height="94"/><rect class="wh" x="1430" y="723" width="153" height="28"/>
<rect class="wh" x="1430" y="756" width="58.5" height="28"/><rect class="wh" x="1493.5" y="756" width="46.5" height="28"/><rect class="g2" x="1545" y="756" width="38" height="28"/>
<text class="tb" transform="translate(1506.5 0) scale(0.82 1)"><tspan x="0" y="663">Intercambiado</tspan><tspan x="0" y="694">res de Calor</tspan></text>
<text class="es" x="1506.5" y="744" textLength="140" lengthAdjust="spacingAndGlyphs">ESPECIALIDAD</text>
<text class="n" x="1459" y="778">2</text><text class="n" x="1517" y="778">3</text><text class="nb" x="1564" y="778">5</text>
</g>
<g id="maquinas-incompresibles">
<rect class="bd" x="1425" y="817" width="163" height="170"/><rect class="ye" x="1430" y="822" width="153" height="94"/><rect class="wh" x="1430" y="921" width="153" height="28"/>
<rect class="wh" x="1430" y="954" width="58.5" height="28"/><rect class="wh" x="1493.5" y="954" width="46.5" height="28"/><rect class="g2" x="1545" y="954" width="38" height="28"/>
<text class="t" transform="translate(1506.5 0) scale(0.82 1)"><tspan x="0" y="844">Máquinas de</tspan><tspan x="0" y="876">Fluidos</tspan><tspan x="0" y="908">Incompresibles</tspan></text>
<text class="c" x="1506.5" y="941">MEF-1018</text>
<text class="n" x="1459" y="976">3</text><text class="n" x="1517" y="976">2</text><text class="nb" x="1564" y="976">5</text>
</g>
<g id="automatizacion">
<rect class="bd" x="1425" y="1015" width="163" height="170"/><rect class="ye" x="1430" y="1020" width="153" height="94"/><rect class="wh" x="1430" y="1119" width="153" height="28"/>
<rect class="wh" x="1430" y="1152" width="58.5" height="28"/><rect class="wh" x="1493.5" y="1152" width="46.5" height="28"/><rect class="g2" x="1545" y="1152" width="38" height="28"/>
<text class="t" transform="translate(1506.5 0) scale(0.82 1)"><tspan x="0" y="1059">Automatización</tspan><tspan x="0" y="1091">Industrial</tspan></text>
<text class="c" x="1506.5" y="1139">MEF-1002</text>
<text class="n" x="1459" y="1174">3</text><text class="n" x="1517" y="1174">2</text><text class="nb" x="1564" y="1174">5</text>
</g>
<g id="taller-investigacion-2">
<rect class="bd" x="1425" y="1213" width="163" height="170"/><rect class="ye" x="1430" y="1218" width="153" height="94"/><rect class="wh" x="1430" y="1317" width="153" height="28"/>
<rect class="wh" x="1430" y="1350" width="58.5" height="28"/><rect class="wh" x="1493.5" y="1350" width="46.5" height="28"/><rect class="g2" x="1545" y="1350" width="38" height="28"/>
<text class="t" transform="translate(1506.5 0) scale(0.82 1)"><tspan x="0" y="1257">Taller de</tspan><tspan x="0" y="1289">investigación II</tspan></text>
<text class="c" x="1506.5" y="1337">ACA-0910</text>
<text class="n" x="1459" y="1372">0</text><text class="n" x="1517" y="1372">4</text><text class="nb" x="1564" y="1372">4</text>
</g>
<g id="maquinas-compresibles">
<rect class="bd" x="1425" y="1411" width="163" height="170"/><rect class="ye" x="1430" y="1416" width="153" height="94"/><rect class="wh" x="1430" y="1515" width="153" height="28"/>
<rect class="wh" x="1430" y="1548" width="58.5" height="28"/><rect class="wh" x="1493.5" y="1548" width="46.5" height="28"/><rect class="g2" x="1545" y="1548" width="38" height="28"/>
<text class="t" transform="translate(1506.5 0) scale(0.82 1)"><tspan x="0" y="1438">Máquinas de</tspan><tspan x="0" y="1470">Fluidos</tspan><tspan x="0" y="1502">Compresibles</tspan></text>
<text class="c" x="1506.5" y="1535">MEE-1017</text>
<text class="n" x="1459" y="1570">3</text><text class="n" x="1517" y="1570">1</text><text class="nb" x="1564" y="1570">4</text>
</g>

<!-- COLUMN 8 -->
<g id="prototipos-termicos">
<rect class="bd" x="1640" y="223" width="172" height="170"/><rect class="gr" x="1645" y="228" width="162" height="94"/><rect class="wh" x="1645" y="327" width="162" height="28"/>
<rect class="wh" x="1645" y="360" width="50" height="28"/><rect class="wh" x="1700" y="360" width="51" height="28"/><rect class="g2" x="1756" y="360" width="51" height="28"/>
<text class="tb" transform="translate(1726 0) scale(0.82 1)"><tspan x="0" y="267">Prototipos</tspan><tspan x="0" y="299">Térmicos</tspan></text>
<text class="es" x="1726" y="348" textLength="140" lengthAdjust="spacingAndGlyphs">ESPECIALIDAD</text>
<text class="n" x="1670" y="382">2</text><text class="n" x="1725.5" y="382">3</text><text class="nb" x="1781.5" y="382">5</text>
</g>
<g id="mantenimiento">
<rect class="bd" x="1640" y="421" width="172" height="170"/><rect class="ye" x="1645" y="426" width="162" height="94"/><rect class="wh" x="1645" y="525" width="162" height="28"/>
<rect class="wh" x="1645" y="558" width="50" height="28"/><rect class="wh" x="1700" y="558" width="51" height="28"/><rect class="g2" x="1756" y="558" width="51" height="28"/>
<text class="t" transform="translate(1726 0) scale(0.82 1)"><tspan x="0" y="481">Mantenimiento</tspan></text>
<text class="c" x="1726" y="545">MEC-1016</text>
<text class="n" x="1670" y="580">2</text><text class="n" x="1725.5" y="580">2</text><text class="nb" x="1781.5" y="580">4</text>
</g>
<g id="refrigeracion">
<rect class="bd" x="1640" y="619" width="172" height="170"/><rect class="ye" x="1645" y="624" width="162" height="94"/><rect class="wh" x="1645" y="723" width="162" height="28"/>
<rect class="wh" x="1645" y="756" width="50" height="28"/><rect class="wh" x="1700" y="756" width="51" height="28"/><rect class="g2" x="1756" y="756" width="51" height="28"/>
<text class="t" transform="translate(1726 0) scale(0.82 1)"><tspan x="0" y="646">Refrigeración y</tspan><tspan x="0" y="678">Aire</tspan><tspan x="0" y="710">Acondicionado</tspan></text>
<text class="c" x="1726" y="743">MED-1027</text>
<text class="n" x="1670" y="778">2</text><text class="n" x="1725.5" y="778">3</text><text class="nb" x="1781.5" y="778">5</text>
</g>
<g id="sistemas-generacion">
<rect class="bd" x="1640" y="817" width="172" height="170"/><rect class="ye" x="1645" y="822" width="162" height="94"/><rect class="wh" x="1645" y="921" width="162" height="28"/>
<rect class="wh" x="1645" y="954" width="50" height="28"/><rect class="wh" x="1700" y="954" width="51" height="28"/><rect class="g2" x="1756" y="954" width="51" height="28"/>
<text class="t" transform="translate(1726 0) scale(0.82 1)"><tspan x="0" y="844">Sistemas de</tspan><tspan x="0" y="876">Generación de</tspan><tspan x="0" y="908">Energía</tspan></text>
<text class="c" x="1726" y="941">MEL-1028</text>
<text class="n" x="1670" y="976">4</text><text class="n" x="1725.5" y="976">1</text><text class="nb" x="1781.5" y="976">5</text>
</g>
<g id="optativa-solo-una">
<rect class="bd" x="1640" y="1015" width="172" height="170"/><rect class="gr" x="1645" y="1020" width="162" height="94"/><rect class="wh" x="1645" y="1119" width="162" height="28"/>
<rect class="wh" x="1645" y="1152" width="50" height="28"/><rect class="wh" x="1700" y="1152" width="51" height="28"/><rect class="g2" x="1756" y="1152" width="51" height="28"/>
<text class="tb" transform="translate(1726 0) scale(0.82 1)"><tspan x="0" y="1059">Optativa</tspan><tspan x="0" y="1091">(Solo Una)</tspan></text>
<text class="es" x="1726" y="1140" textLength="140" lengthAdjust="spacingAndGlyphs">ESPECIALIDAD</text>
<text class="n" x="1670" y="1174">2</text><text class="n" x="1725.5" y="1174">3</text><text class="nb" x="1781.5" y="1174">5</text>
</g>
<g id="gestion-proyectos">
<rect class="bd" x="1640" y="1213" width="172" height="170"/><rect class="ye" x="1645" y="1218" width="162" height="94"/><rect class="wh" x="1645" y="1317" width="162" height="28"/>
<rect class="wh" x="1645" y="1350" width="50" height="28"/><rect class="wh" x="1700" y="1350" width="51" height="28"/><rect class="g2" x="1756" y="1350" width="51" height="28"/>
<text class="t" transform="translate(1726 0) scale(0.82 1)"><tspan x="0" y="1257">Gestión de</tspan><tspan x="0" y="1289">Proyectos</tspan></text>
<text class="c" x="1726" y="1337">MEC-1011</text>
<text class="n" x="1670" y="1372">2</text><text class="n" x="1725.5" y="1372">2</text><text class="nb" x="1781.5" y="1372">4</text>
</g>
<g id="generadores-vapor">
<rect class="bd" x="1640" y="1411" width="172" height="170"/><rect class="gr" x="1645" y="1416" width="162" height="94"/><rect class="wh" x="1645" y="1515" width="162" height="28"/>
<rect class="wh" x="1645" y="1548" width="50" height="28"/><rect class="wh" x="1700" y="1548" width="51" height="28"/><rect class="g2" x="1756" y="1548" width="51" height="28"/>
<text class="tb" transform="translate(1726 0) scale(0.82 1)"><tspan x="0" y="1455">Generadores</tspan><tspan x="0" y="1487">de Vapor</tspan></text>
<text class="es" x="1726" y="1536" textLength="140" lengthAdjust="spacingAndGlyphs">ESPECIALIDAD</text>
<text class="n" x="1670" y="1570">2</text><text class="n" x="1725.5" y="1570">3</text><text class="nb" x="1781.5" y="1570">5</text>
</g>

<!-- COLUMN 9 -->
<g id="residencia-profesional">
<rect class="bd" x="1861" y="222" width="174" height="370"/><rect class="cy" x="1868" y="229" width="160" height="322.5"/><rect class="g2" x="1868" y="558" width="160" height="27"/>
<text font-size="21" font-weight="bold" font-style="italic" text-anchor="middle" transform="translate(1948 0) scale(0.88 1)"><tspan x="0" y="383">RESIDENCIA</tspan><tspan x="0" y="412">PROFESIONAL</tspan></text>
<text font-size="20" font-weight="bold" text-anchor="middle" x="1949.5" y="577">10</text>
</g>
<g id="servicio-social">
<rect class="bd" x="1861" y="618" width="174" height="370"/><rect class="cy" x="1868" y="625" width="160" height="323"/><rect class="g2" x="1868" y="955" width="160" height="26"/>
<text font-size="21" font-weight="bold" font-style="italic" text-anchor="middle" transform="translate(1948 0) scale(0.88 1)"><tspan x="0" y="778">SERVICIO</tspan><tspan x="0" y="808">SOCIAL</tspan></text>
<text font-size="20" font-weight="bold" text-anchor="middle" x="1950" y="974">10</text>
</g>
<g id="optativas-grupo">
<rect x="1855" y="1009.5" width="183" height="569.5" fill="none" stroke="#000" stroke-width="4" stroke-dasharray="26 9"/>
</g>
<g id="mecanica-computacional">
<rect class="bd" x="1862" y="1015" width="171" height="170"/><rect class="gr" x="1867" y="1020" width="161" height="94"/><rect class="wh" x="1867" y="1119" width="161" height="61"/>
<text class="tb" transform="translate(1947.5 0) scale(0.82 1)"><tspan x="0" y="1059">Mecánica</tspan><tspan x="0" y="1091">Computacional</tspan></text>
<text class="op" x="1948" y="1156" textLength="137" lengthAdjust="spacingAndGlyphs">OPTATIVA (a)</text>
</g>
<g id="mecanica-automotriz">
<rect class="bd" x="1862" y="1213" width="171" height="170"/><rect class="gr" x="1867" y="1218" width="161" height="94"/><rect class="wh" x="1867" y="1317" width="161" height="61"/>
<text class="tb" transform="translate(1947.5 0) scale(0.82 1)"><tspan x="0" y="1257">Mecánica</tspan><tspan x="0" y="1289">Automotriz</tspan></text>
<text class="op" x="1948" y="1354" textLength="137" lengthAdjust="spacingAndGlyphs">OPTATIVA (b)</text>
</g>
<g id="ciclos-termicos">
<rect class="bd" x="1862" y="1411" width="171" height="170"/><rect class="gr" x="1867" y="1416" width="161" height="94"/><rect class="wh" x="1867" y="1515" width="161" height="61"/>
<text class="tb" transform="translate(1947.5 0) scale(0.82 1)"><tspan x="0" y="1438">Ciclos</tspan><tspan x="0" y="1470">Térmicos</tspan><tspan x="0" y="1502">Avanzados</tspan></text>
<text class="op" x="1948" y="1552" textLength="137" lengthAdjust="spacingAndGlyphs">OPTATIVA (c)</text>
</g>

<g id="firmas">
<path class="sig" d="M2040,772 L2137,628 M2043,748 C2080,705 2110,668 2137,637 M2046,740 L2135,652 M2041,728 C2056,722 2062,716 2054,712 C2046,708 2062,700 2070,690 L2080,676 C2084,670 2090,673 2086,681 L2096,666 M2074,702 L2092,678 L2096,686 L2104,672"/>
<circle cx="2100" cy="702" r="1.2" fill="#111"/>
<path class="sig" d="M2050,862 C2044,842 2060,822 2074,802 C2088,782 2100,772 2096,792 C2092,812 2072,842 2063,857 C2058,865 2071,850 2081,830 C2091,810 2106,802 2110,822 C2112,836 2101,846 2090,841 M2084,796 C2090,822 2100,842 2116,852"/>
<path class="sig" d="M2040,882 C2060,862 2090,852 2110,862 C2121,872 2101,902 2071,911 C2051,916 2041,901 2056,886 M2070,852 C2072,882 2068,922 2060,962 M2082,862 L2076,932 M2044,922 C2070,902 2096,882 2115,870 M2050,952 C2060,942 2076,936 2092,926 M2055,968 C2058,956 2066,960 2062,972"/>
</g>

<g id="connectors" filter="url(#sh)">
<path class="cn" d="M254,501 H302" marker-end="url(#ah)"/>
<path class="cn" d="M477,498 H523" marker-end="url(#ah)"/>
<path d="M609.5,392 V424" stroke="#FF0000" stroke-width="4" fill="none" marker-start="url(#tri)" marker-end="url(#tri)"/>
<path class="cn" d="M706,315 H757" marker-end="url(#ah)"/>
<path class="cn" d="M723.5,315 V502 H757" marker-end="url(#ah)"/>
<path class="cn" d="M706,515 H727.5 V698 H754" marker-end="url(#ah)"/>
<path class="cn" d="M929,313 H979" marker-end="url(#ah)"/>
<path class="cn" d="M1152,313 H1198" marker-end="url(#ah)"/>
<path class="cn" d="M1374,311 H1420" marker-end="url(#ah)"/>
<path class="cn" d="M929,499 H975" marker-end="url(#ah)"/>
<path class="cn" d="M1152,499 H1199" marker-end="url(#ah)"/>
<path class="cn" d="M1374,497 H1398 V400 H1595 V386 H1629 V400 H1723.5 V416" marker-end="url(#ah)"/>
<path class="cn" d="M1374,648 H1401 V602 H1611.5 V297 H1638" marker-end="url(#ah)"/>
<path class="cn" d="M929,693 H976" marker-end="url(#ah)"/>
<path class="cn" d="M1152,689 H1201" marker-end="url(#ah)"/>
<path class="cn" d="M1374,693 H1425" marker-end="url(#ah)"/>
<path class="cn" d="M1152,737 H1180 V800 H1613.5 V696 H1642" marker-end="url(#ah)"/>
<path class="cn" d="M1406,800 V858 H1382 V923 H1406 V1070 H1382 V1132 H1406 V1272 H1382 V1334 H1406 V1479 H1432" marker-end="url(#tri)"/>
<path class="cn" d="M477,896 H523" marker-end="url(#ah)"/>
<path class="cn" d="M706,902 H753" marker-end="url(#ah)"/>
<path class="cn" d="M1152,897 H1198" marker-end="url(#ah)"/>
<path class="cn" d="M1374,894 H1423" marker-end="url(#ah)"/>
<path class="cn" d="M706,1100 H752" marker-end="url(#ah)"/>
<path class="cn" d="M1152,1102 H1198" marker-end="url(#ah)"/>
<path class="cn" d="M1374,1103 H1420" marker-end="url(#ah)"/>
<path class="cn" d="M1374,1300 H1420" marker-end="url(#ah)"/>
<path class="cn" d="M1588,1300 H1637" marker-end="url(#ah)"/>
<path class="cn" d="M1812,1101 H1830 V1300 H1852" marker-end="url(#ah)"/>
</g>

<g id="creditos" class="blk">
<text x="75.5" y="1626" font-size="16" textLength="100" lengthAdjust="spacingAndGlyphs">CRÉDITOS:</text>
<g font-size="22" text-anchor="middle">
<text x="216.7" y="1629">27</text><text x="447" y="1629">27</text><text x="673.5" y="1629">29</text><text x="894" y="1629">29</text><text x="1121" y="1629">30</text><text x="1345" y="1629">32</text><text x="1566.5" y="1629">#</text><text x="1775" y="1629">33</text><text x="2005" y="1629">20</text><text x="2061.5" y="1629">=</text><text x="2105.5" y="1629">260</text>
</g>
</g>
</svg>
